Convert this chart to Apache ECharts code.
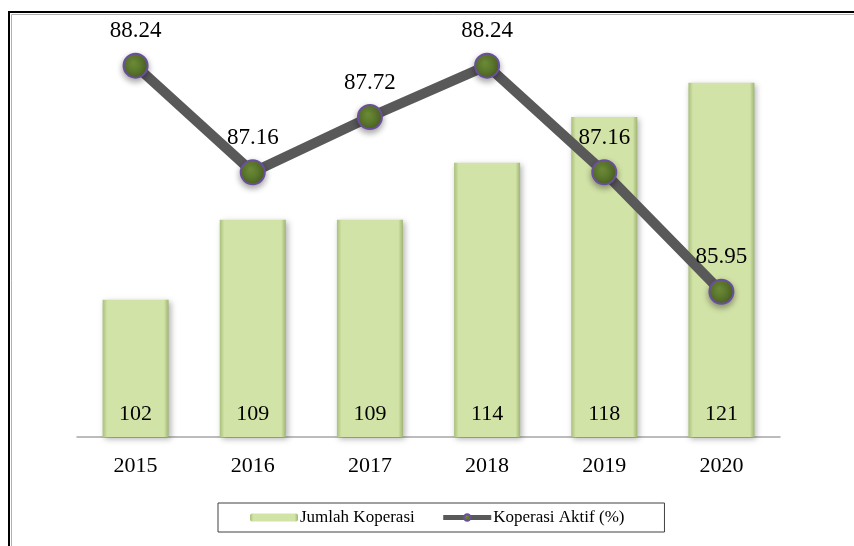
<!DOCTYPE html>
<html>
<head>
<meta charset="utf-8">
<script src="https://cdn.jsdelivr.net/npm/echarts@6/dist/echarts.min.js"></script>
<style>html,body{margin:0;padding:0;background:#fff}#c{width:854px;height:546px}</style>
</head>
<body>
<div id="c"></div>
<script>
var years = ['2015', '2016', '2017', '2018', '2019', '2020'];
var jumlahKoperasi = [102, 109, 109, 114, 118, 121];
var koperasiAktif = [88.24, 87.16, 87.72, 88.24, 87.16, 85.95];

var FONT = '"Liberation Serif", "DejaVu Serif", serif';
var chart = echarts.init(document.getElementById('c'));
chart.setOption({
  animation: false,
  backgroundColor: '#fff',
  graphic: [
    { type: 'rect', shape: { x: 9, y: 12, width: 900, height: 600 }, style: { fill: 'none', stroke: '#000', lineWidth: 2 }, z: 100 },
    { type: 'rect', shape: { x: 11.5, y: 14.5, width: 900, height: 600 }, style: { fill: 'none', stroke: '#b0b0b0', lineWidth: 1 }, z: 100 }
  ],
  grid: { left: 77, right: 74, top: 37, bottom: 109, containLabel: false },
  legend: {
    left: 218, top: 503,
    padding: [6, 40, 6, 32],
    itemGap: 26,
    borderColor: '#404040', borderWidth: 1,
    itemWidth: 48, itemHeight: 8,
    lineStyle: { width: 5 },
    textStyle: { fontFamily: FONT, fontSize: 17, color: '#000', padding: [0, 0, 0, -3] },
    data: ['Jumlah Koperasi', 'Koperasi Aktif (%)']
  },
  xAxis: {
    type: 'category', data: years,
    axisLine: { lineStyle: { color: '#a6a6a6', width: 1.5 } },
    axisTick: { show: false },
    axisLabel: { color: '#000', fontFamily: FONT, fontSize: 22, margin: 18 }
  },
  yAxis: [
    { type: 'value', min: 90, max: 125, show: false, splitLine: { show: false } },
    { type: 'value', min: 84.48, max: 88.53, show: false, splitLine: { show: false } }
  ],
  series: [
    {
      name: 'Jumlah Koperasi', type: 'bar', data: jumlahKoperasi, barWidth: 66,
      itemStyle: {
        color: new echarts.graphic.LinearGradient(0, 0, 1, 0, [
          { offset: 0, color: '#a9c07b' },
          { offset: 0.07, color: '#d2e3a7' },
          { offset: 0.93, color: '#d2e3a7' },
          { offset: 1, color: '#9fb672' }
        ]),
        shadowColor: 'rgba(0,0,0,0.3)', shadowBlur: 6, shadowOffsetX: 2, shadowOffsetY: 2
      },
      label: { show: true, position: 'insideBottom', distance: 12, color: '#000', fontFamily: FONT, fontSize: 22 }
    },
    {
      name: 'Koperasi Aktif (%)', type: 'line', yAxisIndex: 1, data: koperasiAktif,
      symbol: 'circle', symbolSize: 24,
      lineStyle: { color: '#595959', width: 10 },
      itemStyle: {
        color: new echarts.graphic.RadialGradient(0.4, 0.35, 0.7, [
          { offset: 0, color: '#6f8f38' },
          { offset: 1, color: '#4a6322' }
        ]),
        borderColor: '#6b4f9c', borderWidth: 2,
        shadowColor: 'rgba(0,0,0,0.35)', shadowBlur: 6, shadowOffsetY: 3
      },
      label: { show: true, position: 'top', distance: 10, color: '#000', fontFamily: FONT, fontSize: 23 },
      z: 5
    }
  ]
});
</script>
</body>
</html>
